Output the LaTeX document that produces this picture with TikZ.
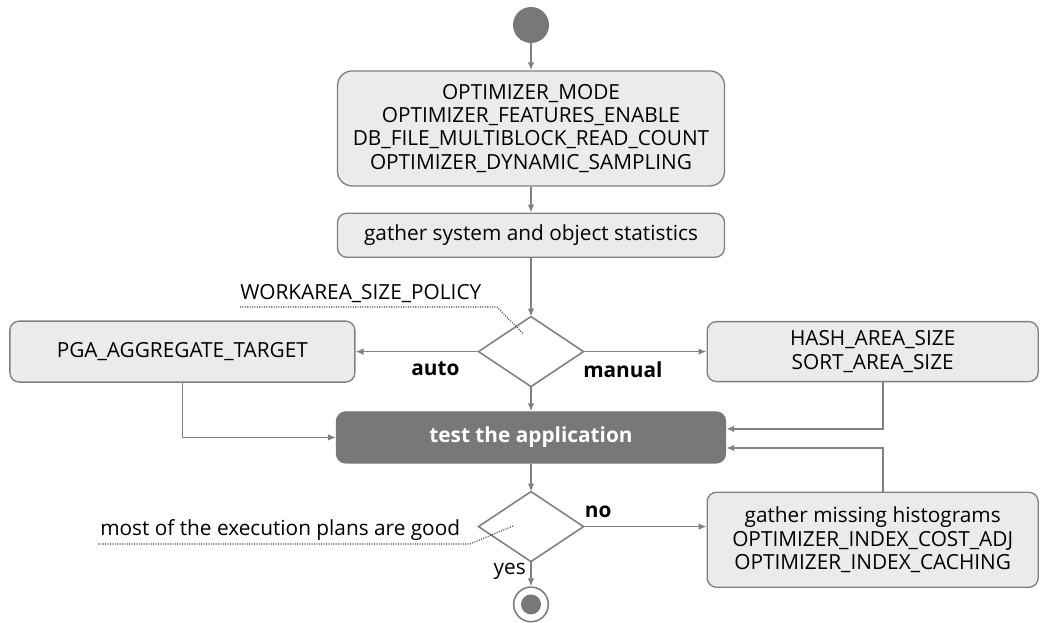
\documentclass[tikz,border=0pt]{standalone}
\usepackage{fontspec}
\setmainfont{Open Sans}
\usetikzlibrary{shapes.geometric, arrows.meta, positioning}
\definecolor{linegray}{RGB}{128,128,128}
\definecolor{boxfill}{RGB}{235,235,235}
\definecolor{darkfill}{RGB}{120,120,120}

\begin{document}
\begin{tikzpicture}[
	x=0.75pt, y=-0.75pt,
	every node/.style={font=\fontsize{15.6}{17.4}\selectfont},
	%% Node styles
	activity/.style={rectangle, draw=linegray, line width=1pt, fill=boxfill,
		rounded corners=7pt, align=center, inner sep=2pt},
	current/.style={activity, draw=darkfill, fill=darkfill, text=white,
		font=\fontsize{15.6}{17.4}\selectfont\bfseries},
	branch/.style={diamond, draw=linegray, line width=1.2pt, fill=white,
		minimum width=78.75pt, minimum height=52.5pt, inner sep=0pt,
		outer sep=0pt},
	startdot/.style={circle, fill=darkfill, minimum size=27pt, inner sep=0pt},
	enddot/.style={circle, draw=linegray, line width=1.2pt, fill=white,
		minimum size=26pt, inner sep=0pt,
		path picture={\fill[darkfill] (path picture bounding box.center) circle (7.5pt);}},
	note/.style={inner xsep=0pt, anchor=base west},
	%% Arrow styles
	arr/.style={-{Latex[length=6pt,width=5pt]}, line width=1.2pt, draw=linegray},
	leader/.style={densely dotted, line width=0.8pt, draw=black!75},
	%% Edge label style
	lbl/.style={font=\fontsize{15.6}{17.4}\selectfont\bfseries, inner sep=2pt},
	]
	
	\useasboundingbox (0,0) rectangle (1041,623);
	
	%% ── Main column (top to bottom) ──────────────────────────────────
	\node[startdot] (start) at (531,25) {};
	
	\node[activity, below=20.25pt of start, minimum width=290.25pt,
		minimum height=86.25pt, rounded corners=11pt] (params)
	{OPTIMIZER\_MODE\\OPTIMIZER\_FEATURES\_ENABLE\\
		DB\_FILE\_MULTIBLOCK\_READ\_COUNT\\OPTIMIZER\_DYNAMIC\_SAMPLING};
	
	\node[activity, below=19.5pt of params, minimum width=290.25pt,
		minimum height=33pt] (stats)
	{gather system and object statistics};
	
	\node[branch, below=44pt of stats] (policy) {};
	
	\node[current, below=18.5pt of policy, minimum width=291.75pt,
		minimum height=38.25pt] (test)
	{test the application};
	
	\node[branch, below=21pt of test] (good) {};
	
	\node[enddot, below=18.5pt of good] (final) {};
	
	%% ── Side boxes ───────────────────────────────────────────────────
	\node[activity, left=92.25pt of policy, minimum width=258.75pt,
		minimum height=45.75pt] (pga)
	{PGA\_AGGREGATE\_TARGET};
	
	\node[activity, right=92.25pt of policy, minimum width=248.25pt,
		minimum height=45pt] (hash)
	{HASH\_AREA\_SIZE\\SORT\_AREA\_SIZE};
	
	\node[activity, anchor=north west, minimum width=248.25pt,
		minimum height=71.25pt] (gather) at (hash.west |- good.north)
	{gather missing histograms\\OPTIMIZER\_INDEX\_COST\_ADJ\\
		OPTIMIZER\_INDEX\_CACHING};
	
	%% ── Notes on the decisions ───────────────────────────────────────
	\node[note] (wsp) at (240,300) {WORKAREA\_SIZE\_POLICY};
	\node[note] (plans) at (100,535) {most of the execution plans are good};
	
	\coordinate (wbend) at (497,307);
	\coordinate (wtip) at ([xshift=-6pt,yshift=13.5pt]policy.center);
	\coordinate (pbend) at (470,544);
	\coordinate (ptip) at ([xshift=-12.75pt,yshift=0.75pt]good.center);
	
	\draw[leader] ([yshift=-5.25pt]wsp.base west) -- (wbend) -- (wtip);
	\draw[leader] ([yshift=-6.75pt,xshift=-1.5pt]plans.base west) -- (pbend) -- (ptip);
	
	%% ── Arrows ───────────────────────────────────────────────────────
	\draw[arr] (start)  -- (params);
	\draw[arr] (params) -- (stats);
	\draw[arr] (stats)  -- (policy);
	\draw[arr] (policy) -- node[lbl, below=5pt, pos=0.35]{auto}   (pga);
	\draw[arr] (policy) -- node[lbl, below=5pt, pos=0.32]{manual} (hash);
	\draw[arr] (policy) -- (test);
	\draw[arr] (pga.south) |- (test.west);
	\draw[arr] ([xshift=7.9pt]hash.south) |- ([yshift=6.4pt]test.east);
	\draw[arr] (test)   -- (good);
	\draw[arr] (good)   -- node[lbl, above=4pt, pos=0.12]{no}
	(good.east -| gather.west);
	\draw[arr] ([xshift=7.9pt]gather.north) |- ([yshift=-7.9pt]test.east);
	\draw[arr] (good)   -- node[left, pos=0.4]{yes} (final);
	
\end{tikzpicture}
\end{document}
